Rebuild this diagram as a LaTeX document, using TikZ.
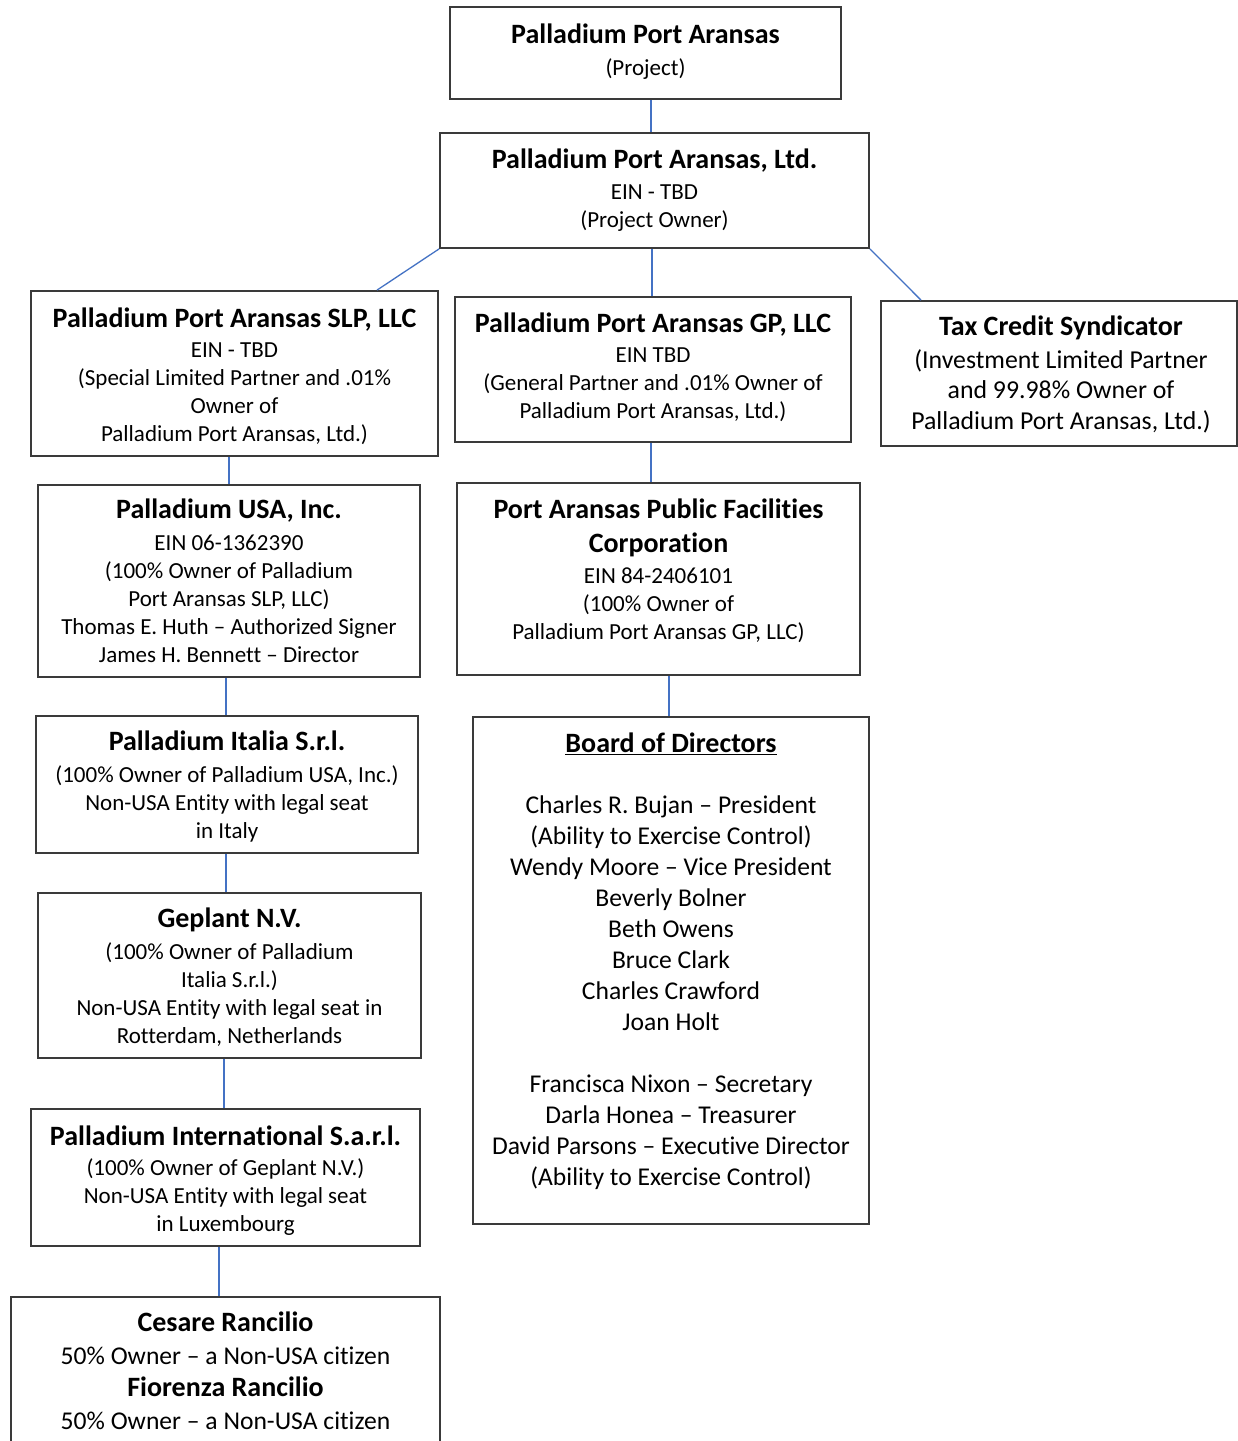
\documentclass[tikz,border=0pt]{standalone}
\usepackage{fontspec}
\setmainfont{Carlito}[Ligatures=NoCommon]
\definecolor{linkblue}{HTML}{4472C4}
\definecolor{boxgray}{HTML}{3A3A3A}
\newcommand{\ttl}{\fontsize{28}{28}\selectfont\bfseries}
\begin{document}
\begin{tikzpicture}[x=1pt,y=-1pt,
  box/.style n args={2}{draw=boxgray, line width=1.8pt, fill=white, inner sep=0, minimum width=#1, minimum height=#2},
  txt/.style={align=center, inner sep=0, anchor=north, font=\fontsize{23}{28}\selectfont},
  bigtxt/.style={align=center, inner sep=0, anchor=north, font=\fontsize{25.8}{30.5}\selectfont},
  conn/.style={draw=linkblue, line width=1.3pt}]
\useasboundingbox (0,0) rectangle (1238,1441);
\clip (0,0) rectangle (1238,1441);
\fill[white] (0,0) rectangle (1238,1441);

% boxes
\node[box={391}{92}] (top) at (645.5,53) {};
\node[box={429}{115}] (ltd) at (654.5,190.5) {};
\node[box={407}{165}] (slp) at (234.5,373.5) {};
\node[box={396}{145}] (gp) at (653,369.5) {};
\node[box={356}{145}] (tax) at (1059,373.5) {};
\node[box={382}{192}] (usa) at (229,581) {};
\node[box={403}{192}] (pf) at (658.5,579) {};
\node[box={382}{137}] (ita) at (227,784.5) {};
\node[box={396}{507}] (board) at (671,970.5) {};
\node[box={383}{165}] (gep) at (229.5,975.5) {};
\node[box={389}{137}] (intl) at (225.5,1177.5) {};
\node[box={429}{173}] (ran) at (225.5,1383.5) {};

% texts
\node[txt] (top-t) at (645.5,24) {{\ttl Palladium Port Aransas}\\[4pt](Project)};
\node[txt] (ltd-t) at (654.5,149) {{\ttl Palladium Port Aransas, Ltd.}\\[3pt]EIN - TBD\\(Project Owner)};
\node[txt] (slp-t) at (234.5,308) {{\ttl Palladium Port Aransas SLP, LLC}\\[2pt]EIN - TBD\\(Special Limited Partner and .01\%\\Owner of\\Palladium Port Aransas, Ltd.)};
\node[txt] (gp-t) at (653,313) {{\ttl Palladium Port Aransas GP, LLC}\\[2pt]EIN TBD\\(General Partner and .01\% Owner of\\Palladium Port Aransas, Ltd.)};
\node[bigtxt] (tax-t) at (1061,316) {{\ttl Tax Credit Syndicator}\\[2pt](Investment Limited Partner\\and 99.98\% Owner of\\Palladium Port Aransas, Ltd.)};
\node[txt] (usa-t) at (229,499) {{\ttl Palladium USA, Inc.}\\[4pt]EIN 06-1362390\\(100\% Owner of Palladium\\Port Aransas SLP, LLC)\\Thomas E. Huth – Authorized Signer\\James H. Bennett – Director};
\node[txt] (pf-t) at (658.5,499) {{\ttl Port Aransas Public Facilities}\\[6pt]{\ttl Corporation}\\[3pt]EIN 84-2406101\\(100\% Owner of\\Palladium Port Aransas GP, LLC)};
\node[txt] (ita-t) at (227,731) {{\ttl Palladium Italia S.r.l.}\\[4pt](100\% Owner of Palladium USA, Inc.)\\Non-USA Entity with legal seat\\in Italy};
\node[align=center, inner sep=0, anchor=north, font=\fontsize{25.6}{31}\selectfont] (board-t) at (671,733) {{\ttl\underline{Board of Directors}}\\[30pt]Charles R. Bujan – President\\(Ability to Exercise Control)\\Wendy Moore – Vice President\\Beverly Bolner\\Beth Owens\\Bruce Clark\\Charles Crawford\\Joan Holt\\[31pt]Francisca Nixon – Secretary\\Darla Honea – Treasurer\\David Parsons – Executive Director\\(Ability to Exercise Control)};
\node[txt] (gep-t) at (229.5,908) {{\ttl Geplant N.V.}\\[4pt](100\% Owner of Palladium\\Italia S.r.l.)\\Non-USA Entity with legal seat in\\Rotterdam, Netherlands};
\node[txt] (intl-t) at (225.5,1126) {{\ttl Palladium International S.a.r.l.}\\[2pt](100\% Owner of Geplant N.V.)\\Non-USA Entity with legal seat\\in Luxembourg};
\node[align=center, inner sep=0, anchor=north, font=\fontsize{25.6}{32.5}\selectfont] (ran-t) at (225.5,1312) {{\ttl Cesare Rancilio}\\50\% Owner – a Non-USA citizen\\{\ttl Fiorenza Rancilio}\\50\% Owner – a Non-USA citizen};

% connector x positions
\coordinate (x651) at (651,0);
\coordinate (x652) at (652,0);
\coordinate (x377) at (377,0);
\coordinate (x921) at (921,0);
\coordinate (x229) at (229,0);
\coordinate (x226) at (226,0);
\coordinate (x224) at (224,0);
\coordinate (x219) at (219,0);
\coordinate (x669) at (669,0);

\draw[conn] (top.south -| x651) -- (ltd.north -| x651);
\draw[conn] (ltd.south west) -- (slp.north -| x377);
\draw[conn] (ltd.south -| x652) -- (gp.north -| x652);
\draw[conn] (ltd.south east) -- (tax.north -| x921);
\draw[conn] (slp.south -| x229) -- (usa.north -| x229);
\draw[conn] (usa.south -| x226) -- (ita.north -| x226);
\draw[conn] (ita.south -| x226) -- (gep.north -| x226);
\draw[conn] (gep.south -| x224) -- (intl.north -| x224);
\draw[conn] (intl.south -| x219) -- (ran.north -| x219);
\draw[conn] (gp.south -| x651) -- (pf.north -| x651);
\draw[conn] (pf.south -| x669) -- (board.north -| x669);
\end{tikzpicture}
\end{document}
